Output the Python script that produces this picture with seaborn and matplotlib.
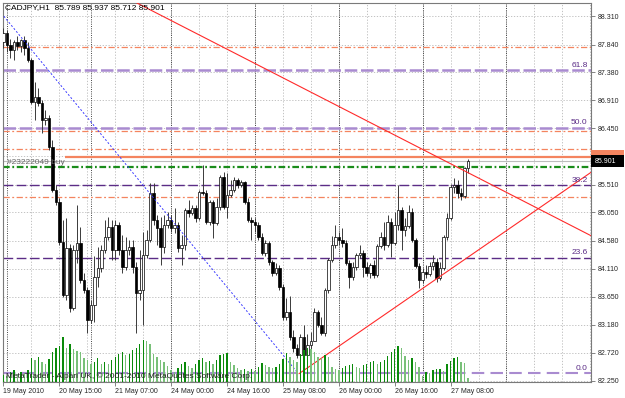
import numpy as np
import pandas as pd
import matplotlib
matplotlib.use("Agg")
import matplotlib.pyplot as plt
import matplotlib.transforms as mtransforms
from matplotlib.patches import Rectangle
import seaborn as sns

# ---------------- data (CADJPY H1) ----------------
open_ = [87.88, 88.03, 87.83, 87.75, 87.88, 87.81, 87.91, 87.78,
         87.58, 86.88, 86.96, 86.87, 86.58, 86.62, 86.13, 85.42, 85.22,
         84.56, 83.68, 84.46, 83.46, 84.42, 84.54, 83.92, 83.76,
         83.26, 83.51, 83.97, 84.12, 84.42, 84.64, 84.81, 84.42,
         84.84, 84.42, 84.14, 84.42, 84.47, 84.14, 83.71, 83.76,
         84.34, 84.59, 85.37, 84.92, 84.79, 84.47, 84.84, 84.92,
         84.79, 84.84, 84.46, 84.51, 85.09, 85.04, 85.12, 84.95, 85.39, 85.37,
         84.89, 85.22, 84.87, 85.14, 85.64, 85.14, 85.34, 85.42, 85.59, 85.50,
         85.55, 85.22, 84.92, 84.89, 84.84, 84.64, 84.37, 84.54, 84.22, 84.04,
         84.12, 83.81, 83.31, 83.39, 82.98, 82.80, 82.68, 82.98, 82.68, 82.85,
         82.91, 83.39, 83.18, 83.04, 83.76, 84.26, 84.51, 84.64, 84.59, 84.54,
         84.21, 83.97, 84.14, 84.34, 84.37, 84.14, 84.04, 84.17, 84.01, 84.49,
         84.64, 84.51, 84.89, 84.54, 84.84, 85.09, 84.76, 84.82,
         85.05, 84.59, 84.16, 83.92, 84.06, 84.02, 84.16, 84.22,
         83.96, 84.12, 84.64, 84.95, 85.47, 85.50, 85.37, 85.32, 85.789]
high = [88.11, 88.08, 87.94, 87.91, 87.98, 87.94, 87.98, 87.88,
        87.61, 87.21, 87.11, 86.91, 86.75, 86.67, 86.25, 85.50, 85.29,
        84.92, 84.95, 84.52, 84.51, 85.17, 84.81, 84.04, 83.81,
        83.59, 84.32, 84.47, 84.51, 84.92, 84.97, 84.92, 84.92,
        84.89, 84.67, 84.64, 84.59, 84.59, 84.22, 84.42, 84.72,
        84.76, 85.54, 85.54, 85.00, 84.97, 85.00, 85.05, 85.00,
        85.12, 84.89, 84.67, 85.12, 85.25, 85.17, 85.17, 85.42, 85.84, 85.42,
        85.25, 85.25, 85.29, 85.67, 85.72, 85.70, 85.59, 85.64, 85.62, 85.59,
        85.57, 85.29, 84.97, 84.95, 84.89, 84.71, 84.59, 84.57, 84.26, 84.21,
        84.17, 83.86, 83.63, 83.66, 83.09, 82.86, 83.03, 83.18, 83.03, 83.06,
        83.46, 83.43, 83.31, 83.79, 84.29, 84.66, 84.84, 84.72, 84.79, 84.59,
        84.26, 84.22, 84.37, 84.51, 84.42, 84.22, 84.21, 84.26, 84.52, 84.72,
        84.89, 85.00, 84.95, 85.05, 85.50, 85.14, 84.95, 85.17,
        85.12, 84.62, 84.21, 84.12, 84.17, 84.22, 84.34, 84.29,
        84.22, 84.67, 85.04, 85.52, 85.62, 85.59, 85.45, 85.80, 85.937]
low = [87.78, 87.71, 87.61, 87.58, 87.75, 87.71, 87.66, 87.55,
       86.85, 86.58, 86.82, 86.37, 86.50, 86.08, 85.39, 85.17, 84.51,
       83.64, 83.59, 83.39, 83.43, 84.21, 83.88, 83.71, 83.04,
       83.21, 83.23, 83.81, 84.06, 84.37, 84.59, 84.26, 84.26,
       84.34, 84.04, 84.09, 84.34, 84.04, 83.04, 83.59, 83.18,
       84.29, 84.56, 84.84, 84.51, 84.17, 84.37, 84.79, 84.72,
       84.71, 84.39, 84.17, 84.42, 84.97, 85.00, 84.89, 84.92, 85.34, 84.86,
       84.84, 84.62, 84.84, 85.09, 85.10, 84.95, 85.30, 85.39, 85.45, 85.47,
       85.19, 84.89, 84.59, 84.72, 84.59, 84.34, 84.32, 84.17, 83.99, 84.01,
       83.76, 83.26, 83.26, 82.93, 82.73, 82.63, 82.65, 82.65, 82.63, 82.76,
       82.91, 83.14, 83.01, 82.99, 83.71, 84.22, 84.46, 84.51, 84.47, 84.17,
       83.79, 83.92, 84.09, 84.29, 83.97, 83.99, 83.96, 83.96, 83.97, 84.46,
       84.42, 84.47, 84.31, 84.51, 84.76, 84.42, 84.66, 84.79,
       84.56, 84.12, 83.79, 83.88, 83.96, 83.99, 84.09, 83.89,
       83.92, 84.09, 84.59, 84.92, 85.37, 85.29, 85.25, 85.29, 85.712]
close = [88.03, 87.83, 87.75, 87.88, 87.81, 87.91, 87.78, 87.58,
         86.88, 86.96, 86.87, 86.58, 86.62, 86.13, 85.42, 85.22, 84.56,
         83.68, 84.46, 83.46, 84.42, 84.54, 83.92, 83.76, 83.26,
         83.51, 83.97, 84.12, 84.42, 84.64, 84.81, 84.42, 84.84,
         84.42, 84.14, 84.42, 84.47, 84.14, 83.71, 83.76, 84.34,
         84.59, 85.37, 84.92, 84.79, 84.47, 84.84, 84.92, 84.79,
         84.84, 84.46, 84.51, 85.09, 85.04, 85.12, 84.95, 85.39, 85.37, 84.89,
         85.22, 84.87, 85.14, 85.64, 85.14, 85.34, 85.42, 85.59, 85.50, 85.55,
         85.22, 84.92, 84.89, 84.84, 84.64, 84.37, 84.54, 84.22, 84.04, 84.12,
         83.81, 83.31, 83.39, 82.98, 82.80, 82.68, 82.98, 82.68, 82.85, 82.91,
         83.39, 83.18, 83.04, 83.76, 84.26, 84.51, 84.64, 84.59, 84.54, 84.21,
         83.97, 84.14, 84.34, 84.37, 84.14, 84.04, 84.17, 84.01, 84.49, 84.64,
         84.51, 84.89, 84.54, 84.84, 85.09, 84.76, 84.82, 85.05,
         84.59, 84.16, 83.92, 84.06, 84.02, 84.16, 84.22, 83.96,
         84.12, 84.64, 84.95, 85.47, 85.50, 85.37, 85.32, 85.789, 85.901]
volume = [140, 120, 200, 240, 160, 200, 180, 240,
          480, 440, 500, 400, 360, 460, 600, 680, 720,
          900, 680, 760, 660, 620, 600, 480, 440,
          360, 400, 480, 360, 400, 360, 440, 500,
          560, 600, 540, 560, 640, 680, 760, 840,
          820, 760, 560, 500, 440, 400, 320, 240,
          200, 280, 360, 400, 320, 280, 360, 440, 480, 400,
          420, 360, 440, 540, 560, 580, 400, 340, 280, 240,
          260, 220, 260, 220, 300, 380, 340, 300, 280, 300,
          360, 460, 580, 500, 440, 400, 560, 640, 680, 660,
          600, 500, 480, 540, 500, 300, 260, 240, 280, 320,
          340, 360, 300, 280, 340, 360, 400, 420, 360, 400,
          440, 520, 600, 660, 720, 680, 520, 440,
          480, 400, 300, 120, 200, 180, 240, 260,
          260, 220, 360, 420, 480, 500, 400, 380, 80]

x_tick_pos = [0, 16, 32, 48, 64, 80, 96, 112, 128]
x_tick_labels = ["19 May 2010", "20 May 15:00", "21 May 07:00", "24 May 00:00",
                 "24 May 16:00", "25 May 08:00", "26 May 00:00", "26 May 16:00",
                 "27 May 08:00"]
y_ticks = [88.310, 87.840, 87.380, 86.910, 86.450, 85.980, 85.510,
           85.050, 84.580, 84.110, 83.650, 83.180, 82.720, 82.250]
hidden_tick = 85.980          # covered by the price boxes
day_separators = [1, 25, 48, 72, 96, 120, 144]

fib_labels = ["0.0", "23.6", "38.2", "50.0", "61.8"]
fib_prices = [82.38, 84.30, 85.50, 86.46, 87.41]
orange_levels = [87.80, 86.40, 86.10, 85.30]
green_level = 85.80
order_price = 85.975
order_start = 17.6
order_label = "#23222049 buy"
bid_price = 85.901
ask_box_price = 85.984

red1_x = [38.2, 168.3]
red1_y = [88.53, 84.66]
red2_x = [84.6, 168.3]
red2_y = [82.37, 85.72]
blue_x = [0.1, 84.0]
blue_y = [88.31, 82.40]

title_text = "CADJPY,H1  85.789 85.937 85.712 85.901"
footer_text = "MetaTrader - Alpari UK, \u00a9 2001-2010 MetaQuotes Software Corp."

assert len(open_) == len(high) == len(low) == len(close) == len(volume), \
    (len(open_), len(high), len(low), len(close), len(volume))

# ---------------- style ----------------
sns.set_style("white")
plt.rcParams["font.family"] = ["Liberation Sans", "DejaVu Sans"]

df = pd.DataFrame({"i": np.arange(len(close)), "o": open_, "h": high,
                   "l": low, "c": close, "v": volume})
df["dir"] = np.where(df["v"].diff().fillna(0) >= 0, "up", "down")

W, H = 625, 398
fig = plt.figure(figsize=(W / 100, H / 100), dpi=100)
ax = fig.add_axes([3 / W, 1 - 381.5 / H, 588 / W, 378.5 / H])
ax2 = ax.twinx()

XMIN, XMAX = -0.14, 168.2
YMIN, YMAX = 82.24, 88.53

# volumes (seaborn)
sns.barplot(data=df, x="i", y="v", hue="dir", native_scale=True,
            palette={"up": "#0a8a0a", "down": "#79c079"}, dodge=False,
            width=0.4, linewidth=0, saturation=1, errorbar=None,
            legend=False, ax=ax2)
ax2.set_ylim(0, 378.5 * 20)
ax2.set_yticks([])
ax2.set_ylabel("")
ax2.set_xlabel("")
for s in ax2.spines.values():
    s.set_visible(False)

# grid
for gx in range(0, 169, 8):
    ax.axvline(gx, color="#b8b8b8", lw=0.6, ls=(0, (1.5, 2)), zorder=0.5)
for gy in y_ticks:
    ax.axhline(gy, color="#b8b8b8", lw=0.6, ls=(0, (1.5, 2)), zorder=0.5)
for dx in day_separators:
    ax.axvline(dx, color="#303030", lw=0.6, ls=(0, (1.2, 1.5)), zorder=0.6)

# horizontal objects
for lv in orange_levels:
    ax.axhline(lv, color="#f4845f", lw=0.9, ls=(0, (5, 2, 1.5, 2)), zorder=2)
ax.axhline(green_level, color="#1a8c1a", lw=1.6, ls=(0, (3, 1.2, 0.8, 1.2)), zorder=2)
ax.axhline(bid_price, color="#bdbdbd", lw=0.8, zorder=2)
ax.hlines(order_price, order_start, XMAX, color="#f4845f", lw=1.6, zorder=2)
for lab, pr in zip(fib_labels, fib_prices):
    if lab in ("38.2", "23.6"):
        ax.axhline(pr, color="#5b2c86", lw=1.0, ls=(0, (7, 2.5)), zorder=2)
    elif lab == "0.0":
        ax.axhline(pr, color="#a98bd0", lw=1.5, ls=(0, (6, 3)), zorder=2)
    else:
        ax.axhline(pr, color="#a98bd0", lw=1.8, ls=(0, (5, 1.5)), zorder=2)
    ax.annotate(lab, xy=(1.0, pr), xycoords=("axes fraction", "data"),
                xytext=(-2.5, 0.8), textcoords="offset points",
                ha="right", va="bottom", fontsize=6, color="#5b2c86", zorder=7)

# candles
bull = df["c"] >= df["o"]
ax.vlines(df["i"], df["l"], df["h"], color="#3a3a3a", lw=0.7, zorder=4)
body = (df["c"] - df["o"]).abs().clip(lower=0.008)
ax.bar(df["i"], body, bottom=np.minimum(df["o"], df["c"]), width=0.72,
       color=np.where(bull, "white", "black"), edgecolor="black",
       linewidth=0.5, zorder=5)

# trend lines
sns.lineplot(x=red1_x, y=red1_y, color="#ff2a2a", lw=0.8, ax=ax, zorder=6)
sns.lineplot(x=red2_x, y=red2_y, color="#ff2a2a", lw=0.8, ax=ax, zorder=6)
ax.plot(blue_x, blue_y, color="#3a3aff", lw=0.7, ls=(0, (2, 2)), zorder=6)

# axes
ax.set_xlim(XMIN, XMAX)
ax.set_ylim(YMIN, YMAX)
ax.yaxis.tick_right()
ax.set_yticks(y_ticks)
ax.set_yticklabels(["" if v == hidden_tick else f"{v:.3f}" for v in y_ticks])
ax.set_xticks(x_tick_pos)
ax.set_xticklabels(x_tick_labels, ha="left")
ax.set_xlabel("")
ax.set_ylabel("")
ax.tick_params(axis="y", right=True, left=False, labelright=True, labelleft=False,
               length=3, width=0.6, color="#707070", pad=2, labelsize=5)
ax.tick_params(axis="x", bottom=True, length=3, width=0.6, color="#707070",
               pad=1.5, labelsize=5)
for s in ax.spines.values():
    s.set_color("#7a7a7a")
    s.set_linewidth(0.8)

# price boxes on the right
blend = mtransforms.blended_transform_factory(ax.transAxes, ax.transData)
ax2.add_patch(Rectangle((1.0, ask_box_price - 0.1), 0.056, 0.2, transform=blend,
                        facecolor="#f4845f", edgecolor="none", clip_on=False, zorder=8))
ax2.add_patch(Rectangle((1.0, bid_price - 0.1), 0.056, 0.2, transform=blend,
                        facecolor="black", edgecolor="none", clip_on=False, zorder=10))
ax2.text(1.007, bid_price, f"{bid_price:.3f}", transform=blend, ha="left",
         va="center", fontsize=5, color="white", clip_on=False, zorder=11)

# texts
ax2.text(0.0035, 0.987, title_text, transform=ax.transAxes, ha="left", va="center",
         fontsize=6, color="black", zorder=12)
ax2.text(0.005, 0.014, footer_text, transform=ax.transAxes, ha="left", va="center",
         fontsize=6, color="#202020", zorder=12)
ax2.text(0.006, order_price - 0.1, order_label, transform=blend, ha="left", va="center",
         fontsize=6, color="#6a6a6a", zorder=12)

ax.set_xlim(XMIN, XMAX)
fig.savefig("out.png", dpi=100)
